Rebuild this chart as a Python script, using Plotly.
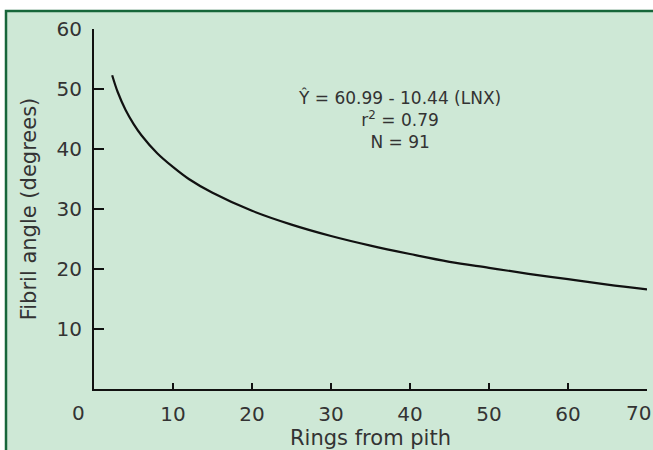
import plotly.graph_objects as go

# Values (fitted curve)
rings = [2.3, 3, 4, 5, 6, 8, 10, 12, 15, 20, 25, 30, 35, 40, 45, 50, 55, 60, 65, 70]
fibril_angle = [52.3, 49.5, 46.5, 44.2, 42.3, 39.3, 37.0, 35.0, 32.7, 29.7, 27.4,
                25.5, 23.9, 22.5, 21.2, 20.2, 19.2, 18.3, 17.4, 16.6]

x_ticks = [10, 20, 30, 40, 50, 60, 70]
x_tick_text = ["10", "20", "30", "40", "50", "60", ""]
y_ticks = [10, 20, 30, 40, 50, 60]

eq_lines = ["Ŷ = 60.99 - 10.44 (LNX)", "r<sup>2</sup> = 0.79", "N = 91"]

BG = "#cee8d6"
BORDER = "#17663a"
TXT = "#333333"
FONT = "DejaVu Sans"

fig = go.Figure()
fig.add_trace(go.Scatter(
    x=rings, y=fibril_angle, mode="lines",
    line=dict(color="#111111", width=2.2, shape="spline", smoothing=1.0),
    hoverinfo="skip", showlegend=False,
))

# Plot area: x 94..647 px, y 29..389 px
L, R, T, B = 94, 6, 29, 61
W, H = 653, 450
pw, ph = W - L - R, H - T - B

def px_x(px):
    return (px - L) / pw

def px_y(py):
    return (H - B - py) / ph

fig.add_shape(type="rect", xref="paper", yref="paper",
              x0=px_x(6), x1=px_x(700), y0=px_y(500), y1=px_y(11),
              fillcolor=BG, line=dict(color=BORDER, width=2.5), layer="below")

fig.add_annotation(xref="paper", yref="paper", x=px_x(399), y=px_y(119),
                   xanchor="center", yanchor="middle",
                   text="<br>".join(eq_lines), showarrow=False, align="center",
                   font=dict(family=FONT, size=17, color=TXT))

# end labels of the x axis, offset like in the reference
fig.add_annotation(xref="paper", yref="paper", x=px_x(78), y=px_y(413),
                   xanchor="center", yanchor="middle", text="0", showarrow=False,
                   font=dict(family=FONT, size=20, color=TXT))
fig.add_annotation(xref="paper", yref="paper", x=px_x(638), y=px_y(413),
                   xanchor="center", yanchor="middle", text="70", showarrow=False,
                   font=dict(family=FONT, size=20, color=TXT))

fig.update_layout(
    width=W, height=H,
    margin=dict(l=L, r=R, t=T, b=B, pad=0),
    paper_bgcolor="white", plot_bgcolor="rgba(0,0,0,0)",
    font=dict(family=FONT, color=TXT),
    showlegend=False,
)
fig.update_xaxes(
    range=[0, 70], tickvals=x_ticks, ticktext=x_tick_text, ticks="inside", ticklen=6,
    tickwidth=2, tickcolor="#111111", showline=True, linecolor="#111111", linewidth=2,
    showgrid=False, zeroline=False, tickfont=dict(family=FONT, size=20, color=TXT),
    ticklabelstandoff=6,
    title=dict(text="Rings from pith", font=dict(family=FONT, size=21, color=TXT), standoff=2),
)
fig.update_yaxes(
    range=[0, 60], tickvals=y_ticks, ticks="inside", ticklen=10, tickwidth=2,
    tickcolor="#111111", showline=True, linecolor="#111111", linewidth=2,
    showgrid=False, zeroline=False, tickfont=dict(family=FONT, size=20, color=TXT),
    ticklabelstandoff=6,
    title=dict(text="Fibril angle (degrees)", font=dict(family=FONT, size=21, color=TXT), standoff=14),
)

fig.write_html("out.html", config={"displayModeBar": False},
               post_script="document.body.style.margin='0';document.body.style.overflow='hidden';")
